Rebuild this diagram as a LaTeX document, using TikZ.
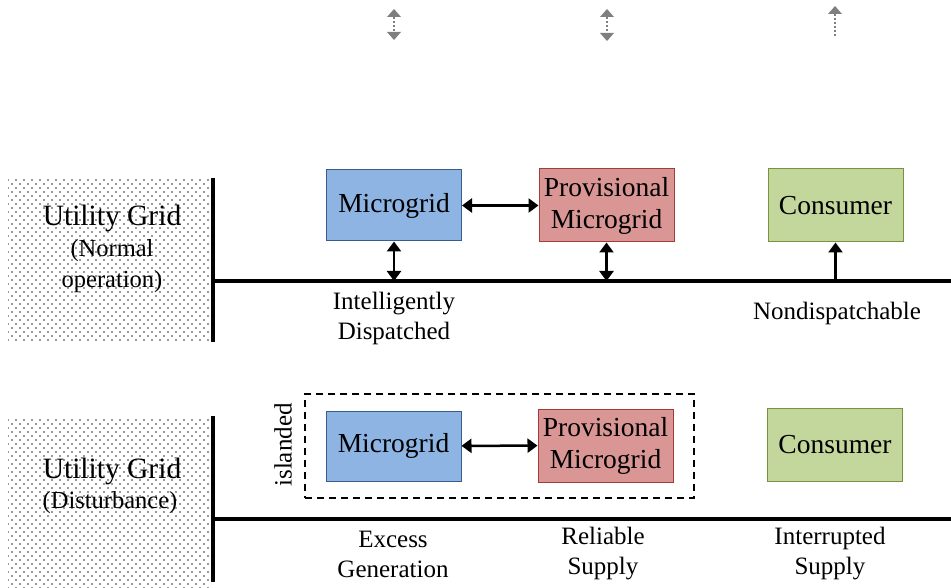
\documentclass[tikz,border=0pt]{standalone}
\usepackage{fontspec}
\setmainfont{Liberation Serif}
\usetikzlibrary{arrows.meta,patterns}
\definecolor{mgfill}{HTML}{8EB4E3}
\definecolor{mgdraw}{HTML}{385D8A}
\definecolor{pmfill}{HTML}{D99694}
\definecolor{pmdraw}{HTML}{A33B38}
\definecolor{csfill}{HTML}{C3D69B}
\definecolor{csdraw}{HTML}{77933C}
\definecolor{arrgray}{HTML}{7F7F7F}
\pgfdeclarepatternformonly{griddots}{\pgfqpoint{-1pt}{-1pt}}{\pgfqpoint{9pt}{9pt}}{\pgfqpoint{8pt}{8pt}}{%
  \pgfpathrectangle{\pgfqpoint{-0.8pt}{-0.8pt}}{\pgfqpoint{1.6pt}{1.6pt}}%
  \pgfpathrectangle{\pgfqpoint{3.2pt}{3.2pt}}{\pgfqpoint{1.6pt}{1.6pt}}%
  \pgfusepath{fill}}
\begin{document}
\begin{tikzpicture}[x=1pt,y=-1pt,
  box/.style={draw, line width=1pt, minimum width=135pt, align=center, inner sep=0pt,
    font=\fontsize{27.5}{32}\selectfont},
  mgbox/.style={box, fill=mgfill, draw=mgdraw, minimum height=71pt},
  pmbox/.style={box, fill=pmfill, draw=pmdraw, minimum height=73pt},
  csbox/.style={box, fill=csfill, draw=csdraw, minimum height=73pt},
  grid/.style={pattern=griddots, pattern color=gray!80, minimum width=203pt, inner sep=0pt, align=center},
  bus/.style={line width=3.5pt},
  link/.style={line width=2.5pt, {Triangle[width=14pt,length=10pt]}-{Triangle[width=14pt,length=10pt]}},
  uplink/.style={line width=2.5pt, -{Triangle[width=14pt,length=10pt]}},
  ghost/.style={draw=arrgray, line width=1.2pt, dash pattern=on 2.5pt off 1.5pt},
  ghosttip/.tip={Triangle[width=14pt,length=8pt,fill=arrgray,color=arrgray,line width=0pt]},
  lbl/.style={align=center, font=\fontsize{25}{30}\selectfont},
  sub/.style={align=center, font=\fontsize{24.5}{31}\selectfont},
  title/.style={font=\fontsize{29.5}{30}\selectfont}
]
\useasboundingbox (0,0) rectangle (951,588);

% ghost arrows at the top
\coordinate (t1a) at (394,9);  \coordinate (t1b) at (394,40);
\coordinate (t2a) at (607,9);  \coordinate (t2b) at (607,41);
\coordinate (t3a) at (835,6);  \coordinate (t3b) at (835,38);
\draw[ghost, {ghosttip}-{ghosttip}] (t1a) -- (t1b);
\draw[ghost, {ghosttip}-{ghosttip}] (t2a) -- (t2b);
\draw[ghost, {ghosttip}-] (t3a) -- (t3b);

% ---------- normal operation ----------
\node[grid, minimum height=164pt] (g1) at (109.5,260) {};
\node[title] (g1t) at (112,218) {Utility Grid};
\node[sub] (g1s) at (112,266) {(Normal\\operation)};
\coordinate (v1a) at (213,178); \coordinate (v1b) at (213,342);
\coordinate (h1a) at (213,281); \coordinate (h1b) at (951,281);
\draw[bus] (v1a) -- (v1b);
\draw[bus] (h1a) -- (h1b);

\node[mgbox] (mg1) at (394,205.5) {Microgrid};
\node[pmbox] (pm1) at (606.5,205.5) {Provisional\\Microgrid};
\node[csbox] (cs1) at (835.5,205.5) {Consumer};

\draw[link] (mg1) -- (pm1);
\draw[link] (mg1.south) -- (mg1.south |- h1a);
\draw[link] (pm1.south) -- (pm1.south |- h1a);
\draw[uplink] (cs1.south |- h1a) -- (cs1.south);

\node[lbl] (l1) at (394,318) {Intelligently\\Dispatched};
\node[lbl] (l2) at (837,313) {Nondispatchable};

% ---------- disturbance ----------
\node[grid, minimum height=170pt] (g2) at (109.5,503) {};
\node[title] (g2t) at (112,471) {Utility Grid};
\node[sub] (g2s) at (110,503) {(Disturbance)};
\coordinate (v2a) at (213,416); \coordinate (v2b) at (213,582);
\coordinate (h2a) at (213,519); \coordinate (h2b) at (951,519);
\draw[bus] (v2a) -- (v2b);
\draw[bus] (h2a) -- (h2b);

\node[draw, line width=1.5pt, dash pattern=on 7pt off 5pt,
      minimum width=389pt, minimum height=104pt] (isl) at (499.5,446) {};
\node[rotate=90, font=\fontsize{25}{28}\selectfont] (islt) at (283,445) {islanded};

\node[mgbox, minimum height=70pt] (mg2) at (393.5,446) {Microgrid};
\node[pmbox] (pm2) at (605.5,445.5) {Provisional\\Microgrid};
\node[csbox] (cs2) at (835,444.5) {Consumer};

\draw[link] (mg2) -- (pm2);

\node[lbl] (l3) at (393,554) {Excess\\Generation};
\node[lbl] (l4) at (603,554) {Reliable\\Supply};
\node[lbl] (l5) at (830,554) {Interrupted\\Supply};
\end{tikzpicture}
\end{document}
